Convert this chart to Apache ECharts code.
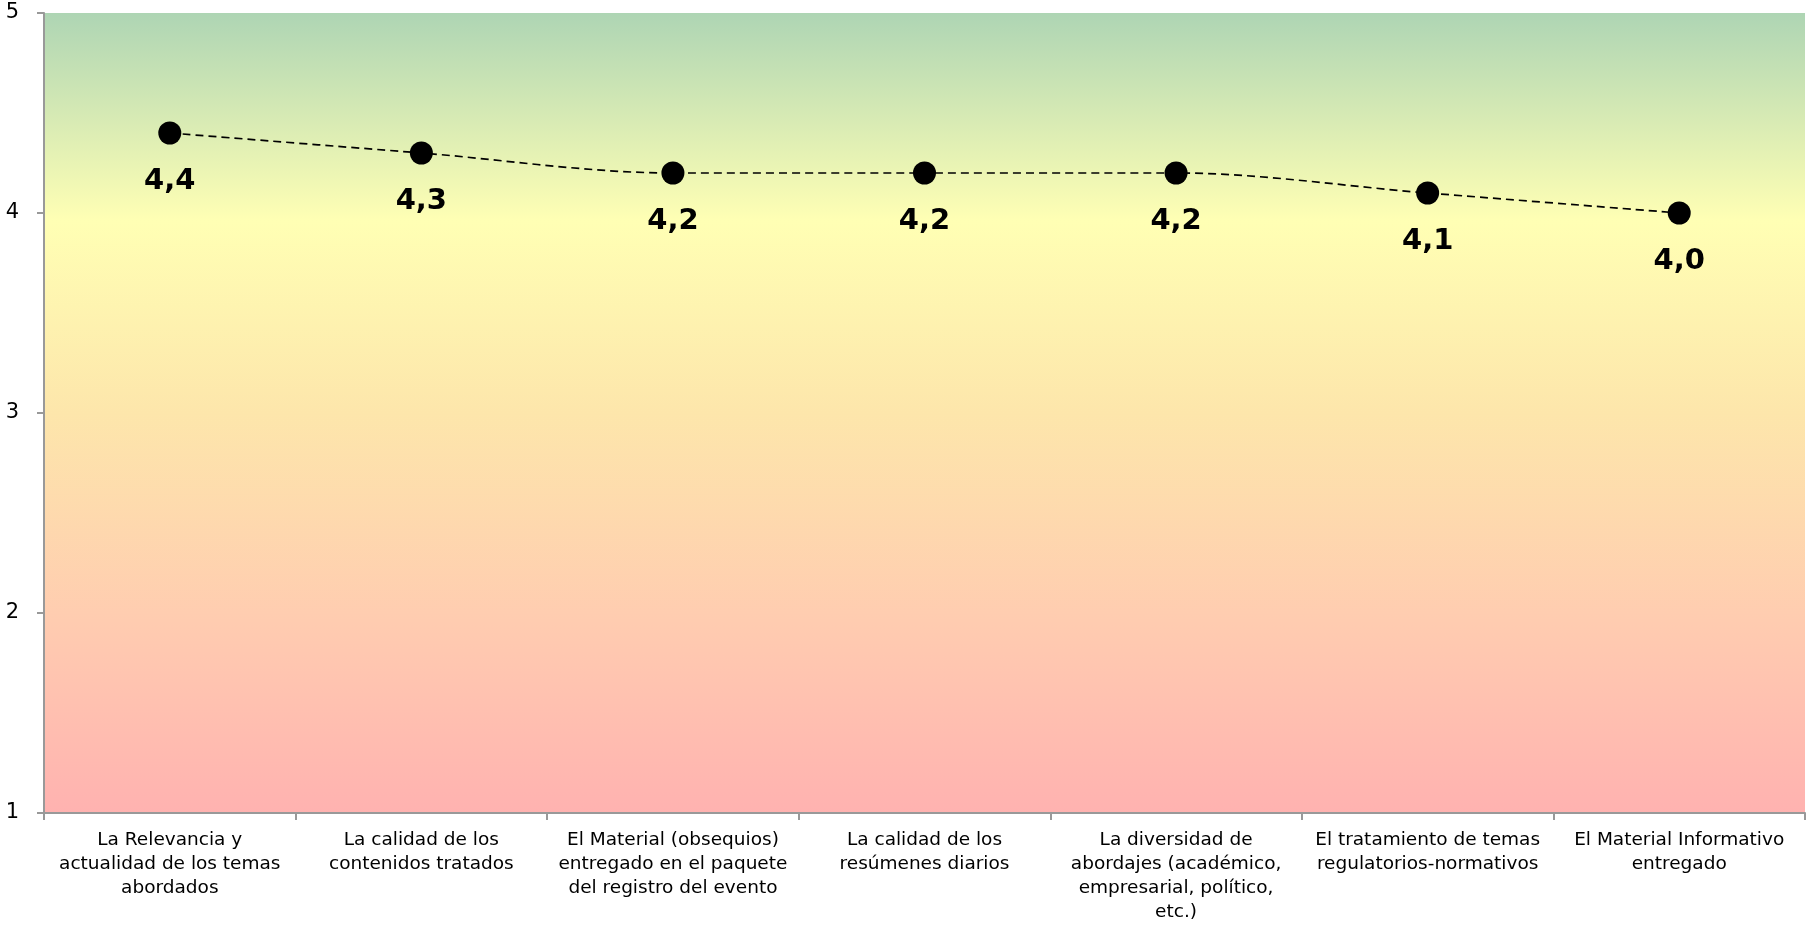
<!DOCTYPE html>
<html>
<head>
<meta charset="utf-8">
<title>Evaluación</title>
<script src="https://cdn.jsdelivr.net/npm/echarts@6/dist/echarts.min.js"></script>
<style>
  html, body { margin: 0; padding: 0; background: #ffffff; }
  #chart { width: 1806px; height: 926px; }
</style>
</head>
<body>
<div id="chart"></div>
<script>
// Aspectos evaluados (eje de categorías)
const categories = [
  'La Relevancia y\nactualidad de los temas\nabordados',
  'La calidad de los\ncontenidos tratados',
  'El Material (obsequios)\nentregado en el paquete\ndel registro del evento',
  'La calidad de los\nresúmenes diarios',
  'La diversidad de\nabordajes (académico,\nempresarial, político,\netc.)',
  'El tratamiento de temas\nregulatorios-normativos',
  'El Material Informativo\nentregado'
];

// Puntaje promedio de cada aspecto
const scores = [4.4, 4.3, 4.2, 4.2, 4.2, 4.1, 4.0];

// Escala del eje de valores
const yMin = 1;
const yMax = 5;
const yStep = 1;

const chart = echarts.init(document.getElementById('chart'));

const fmtComma = v => v.toFixed(1).replace('.', ',');

chart.setOption({
  animation: false,
  backgroundColor: '#ffffff',
  textStyle: { fontFamily: 'DejaVu Sans' },
  grid: {
    left: 44,
    right: 1,
    top: 13,
    bottom: 113,
    show: true,
    borderWidth: 0,
    backgroundColor: new echarts.graphic.LinearGradient(0, 0, 0, 1, [
      { offset: 0.00, color: '#aed5b4' },
      { offset: 0.26, color: '#ffffb4' },
      { offset: 0.50, color: '#fde6ab' },
      { offset: 0.75, color: '#ffcdb0' },
      { offset: 1.00, color: '#ffb2b0' }
    ])
  },
  xAxis: {
    type: 'category',
    data: categories,
    boundaryGap: true,
    axisLine: { show: true, lineStyle: { color: '#999999', width: 2 } },
    axisTick: { show: true, length: 7, lineStyle: { color: '#999999', width: 2 } },
    axisLabel: {
      interval: 0,
      margin: 15,
      color: '#000000',
      fontSize: 18.5,
      lineHeight: 24,
      fontFamily: 'DejaVu Sans',
      align: 'center'
    },
    splitLine: { show: false }
  },
  yAxis: {
    type: 'value',
    min: yMin,
    max: yMax,
    interval: yStep,
    axisLine: { show: true, lineStyle: { color: '#999999', width: 2 } },
    axisTick: { show: true, length: 7, lineStyle: { color: '#999999', width: 2 } },
    axisLabel: {
      margin: 25,
      color: '#000000',
      fontSize: 21,
      fontFamily: 'DejaVu Sans'
    },
    splitLine: { show: false }
  },
  series: [{
    type: 'line',
    data: scores,
    smooth: 0.33,
    symbol: 'circle',
    symbolSize: 23,
    itemStyle: { color: '#000000' },
    lineStyle: { color: '#000000', width: 1.7, type: [8, 5] },
    label: {
      show: true,
      position: 'bottom',
      distance: 22,
      color: '#000000',
      fontSize: 29,
      fontWeight: 'bold',
      fontFamily: 'DejaVu Sans',
      formatter: p => fmtComma(p.value)
    }
  }]
});
</script>
</body>
</html>
